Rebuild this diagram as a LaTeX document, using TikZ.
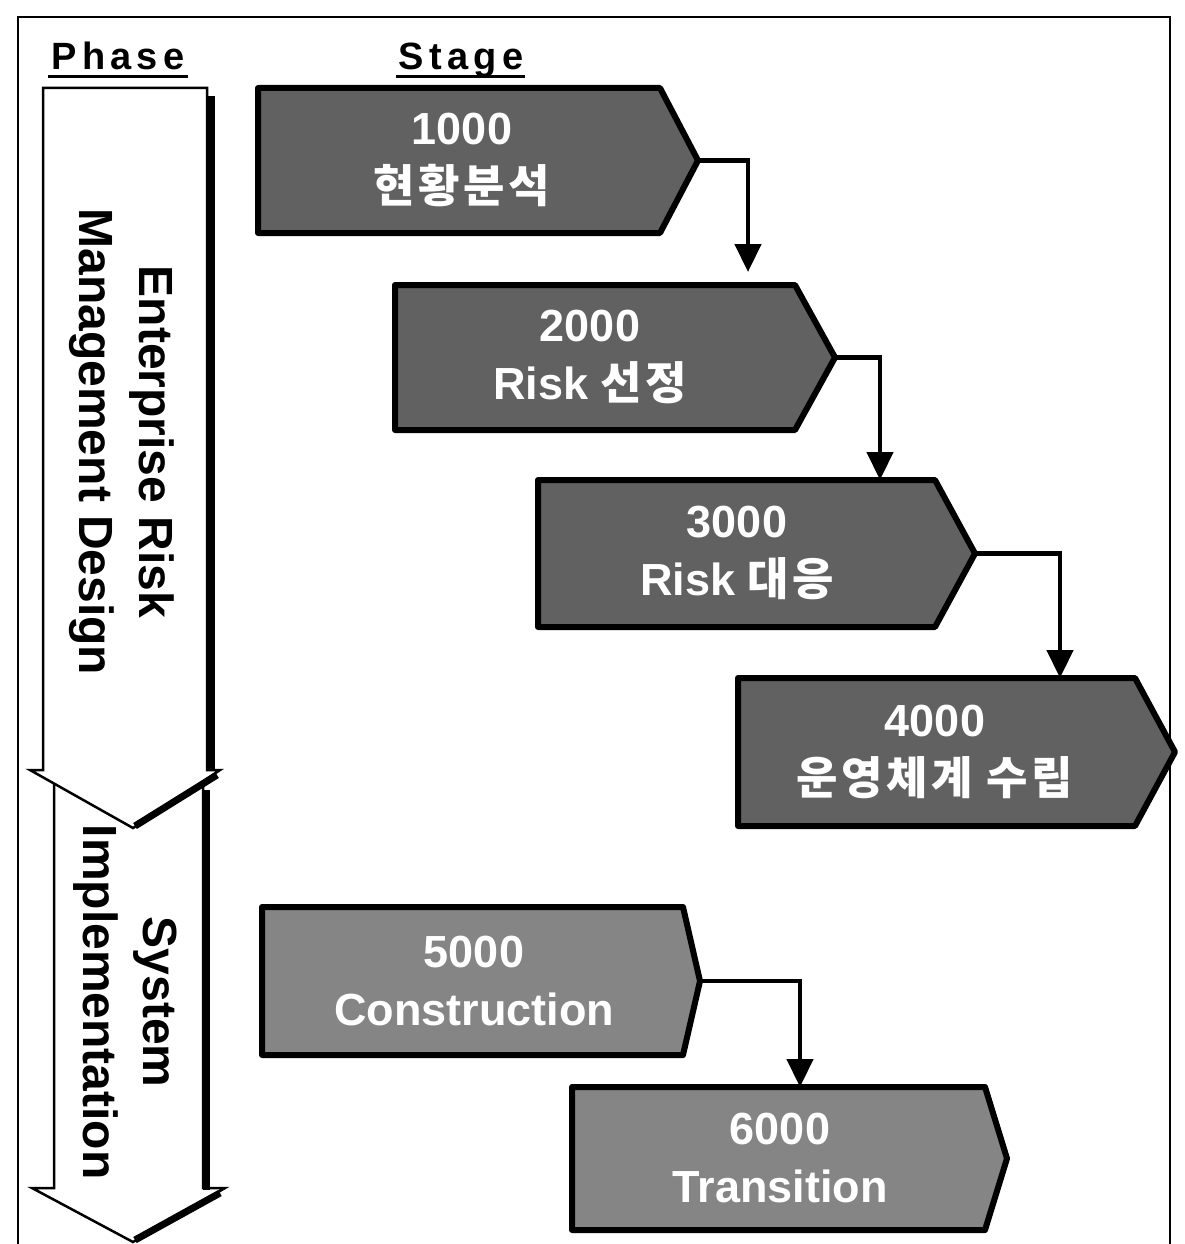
\documentclass[tikz,border=0pt]{standalone}
\usepackage{fontspec}
\setmainfont{Liberation Sans}
\newfontfamily\kr{Noto Sans CJK KR Bold}
\usetikzlibrary{arrows.meta}
\tikzset{
  stagebox/.style={draw=black, line width=6pt, line join=round},
  darkfill/.style={fill=black!62},
  lightfill/.style={fill=black!48},
  stagetext/.style={text=white, align=center, inner sep=0pt,
    font=\fontsize{45}{58}\selectfont\bfseries},
  phasearrow/.style={draw=black, line width=2.5pt, fill=white, line join=miter},
  phaseshadow/.style={draw=black, line width=7pt},
  phasetext/.style={align=center, rotate=-90, inner sep=0pt,
    font=\fontsize{48}{60}\selectfont\bfseries},
  header/.style={inner sep=0pt, font=\fontsize{38}{44}\selectfont\bfseries\addfontfeature{LetterSpace=14}},
  flow/.style={draw=black, line width=4.5pt, -{Triangle[width=26pt,length=28pt]}},
}
\begin{document}
\begin{tikzpicture}[x=1pt,y=-1pt]
\useasboundingbox (0,0) rectangle (1185,1244);
% frame
\draw[line width=2.5pt] (18,1244) -- (18,17) -- (1170,17) -- (1170,1244);

% headers
\node[header, anchor=base] (phase) at (118,70) {Phase};
\node[header, anchor=base] (stage) at (461,70) {Stage};
\draw[line width=3pt] (48,77) -- (188,77);
\draw[line width=3pt] (396,77) -- (525,77);

% phase arrow 2
\draw[phasearrow] (54,760) -- (203,760) -- (203,1188) -- (225,1188) -- (133,1242) -- (32,1188) -- (54,1188) -- cycle;
\draw[phaseshadow] (206,790) -- (206,1190);
\draw[phaseshadow] (220,1193) -- (135,1240);
% phase arrow 1
\draw[phasearrow] (43,88) -- (207,88) -- (207,770) -- (220,770) -- (133,828) -- (30,770) -- (43,770) -- cycle;
\draw[phaseshadow] (211,96) -- (211,770);
\draw[phaseshadow] (217,775) -- (135,826);

\node[phasetext] (p1) at (122,442) {Enterprise Risk\\Management Design};
\node[phasetext] (p2) at (125,1002) {System\\Implementation};

% stage boxes
\draw[stagebox, darkfill] (258,88) -- (660,88) -- (698,160.5) -- (660,233) -- (258,233) -- cycle;
\draw[stagebox, darkfill] (395,285) -- (795,285) -- (835,357.5) -- (795,430) -- (395,430) -- cycle;
\draw[stagebox, darkfill] (538,480) -- (935,480) -- (975,553.5) -- (935,627) -- (538,627) -- cycle;
\draw[stagebox, darkfill] (738,678) -- (1135,678) -- (1175,752) -- (1135,826) -- (738,826) -- cycle;
\draw[stagebox, lightfill] (262,907) -- (683,907) -- (700,981) -- (683,1055) -- (262,1055) -- cycle;
\draw[stagebox, lightfill] (572,1087) -- (985,1087) -- (1007,1158.5) -- (985,1230) -- (572,1230) -- cycle;

\node[stagetext] (s1) at (462,160) {1000\\{\kr\addfontfeature{LetterSpace=8} 현황분석}};
\node[stagetext] (s2) at (590,357) {2000\\Risk {\kr\addfontfeature{LetterSpace=8} 선정}};
\node[stagetext] (s3) at (737,553) {3000\\Risk {\kr\addfontfeature{LetterSpace=8} 대응}};
\node[stagetext] (s4) at (935,752) {4000\\{\kr\addfontfeature{LetterSpace=8} 운영체계 수립}};
\node[stagetext] (s5) at (474,981) {5000\\Construction};
\node[stagetext] (s6) at (780,1158) {6000\\Transition};

% connectors
\coordinate (t1) at (698,160.5);
\coordinate (t2) at (835,357.5);
\coordinate (t3) at (975,553.5);
\coordinate (t5) at (700,981);
\coordinate (a2) at (748,272);
\coordinate (a3) at (880,480);
\coordinate (a4) at (1060,678);
\coordinate (a6) at (800,1087);
\draw[flow] (t1) -| (a2);
\draw[flow] (t2) -| (a3);
\draw[flow] (t3) -| (a4);
\draw[flow] (t5) -| (a6);
\end{tikzpicture}
\end{document}
